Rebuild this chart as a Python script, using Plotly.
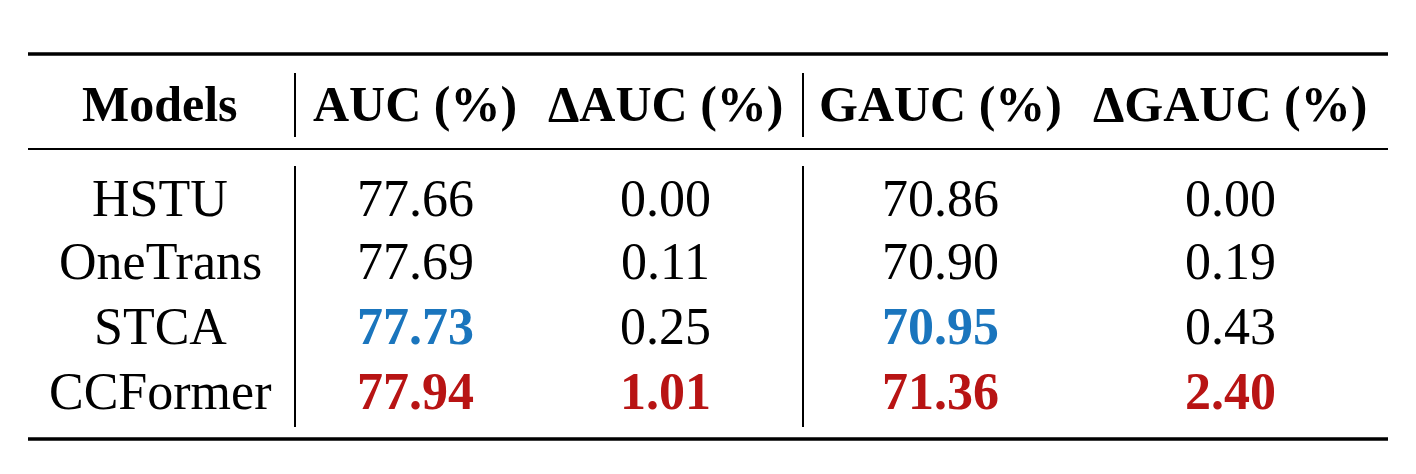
import plotly.graph_objects as go

headers = ["Models", "AUC (%)", "ΔAUC (%)", "GAUC (%)", "ΔGAUC (%)"]
models = ["HSTU", "OneTrans", "STCA", "CCFormer"]
auc = ["77.66", "77.69", "77.73", "77.94"]
dauc = ["0.00", "0.11", "0.25", "1.01"]
gauc = ["70.86", "70.90", "70.95", "71.36"]
dgauc = ["0.00", "0.19", "0.43", "2.40"]
# style per cell: 0 normal, 1 blue bold (second best), 2 red bold (best)
auc_s = [0, 0, 1, 2]
dauc_s = [0, 0, 0, 2]
gauc_s = [0, 0, 1, 2]
dgauc_s = [0, 0, 0, 2]

DX, DY = -8, -7
col_x = [c + DX for c in (160, 415, 665, 940, 1230)]
header_y = 103 + DY
row_y = [y + DY for y in (197, 260, 325, 390)]
FONT = "Liberation Serif"
FS_H = 50
FS = 52
BLUE = "#1a75bd"
RED = "#b81414"

fig = go.Figure()
ann = []
for x, h in zip(col_x, headers):
    ann.append(dict(x=x, y=header_y, text="<b>%s</b>" % h, showarrow=False,
                    font=dict(family=FONT, size=FS_H, color="black")))
cols = [(models, [0]*4), (auc, auc_s), (dauc, dauc_s), (gauc, gauc_s), (dgauc, dgauc_s)]
for x, (vals, sty) in zip(col_x, cols):
    for y, v, s in zip(row_y, vals, sty):
        txt = v if s == 0 else "<b>%s</b>" % v
        col = "black" if s == 0 else (BLUE if s == 1 else RED)
        ann.append(dict(x=x, y=y, text=txt, showarrow=False,
                        font=dict(family=FONT, size=FS, color=col)))

shapes = [
    dict(type="line", x0=28+DX, x1=1388+DX, y0=53+DY, y1=53+DY, line=dict(color="black", width=3.5)),
    dict(type="line", x0=28+DX, x1=1388+DX, y0=148+DY, y1=148+DY, line=dict(color="black", width=2)),
    dict(type="line", x0=28+DX, x1=1388+DX, y0=438+DY, y1=438+DY, line=dict(color="black", width=3.5)),
]
for vx in (295 + DX, 803 + DX):
    shapes.append(dict(type="line", x0=vx, x1=vx, y0=72+DY, y1=136+DY, line=dict(color="black", width=2)))
    shapes.append(dict(type="line", x0=vx, x1=vx, y0=165+DY, y1=426+DY, line=dict(color="black", width=2)))

fig.update_layout(
    width=1416, height=474, margin=dict(l=0, r=0, t=0, b=0),
    paper_bgcolor="white", plot_bgcolor="white",
    xaxis=dict(range=[0, 1416], visible=False, fixedrange=True),
    yaxis=dict(range=[474, 0], visible=False, fixedrange=True),
    annotations=ann, shapes=shapes, showlegend=False,
)
fig.write_html("out.html")
